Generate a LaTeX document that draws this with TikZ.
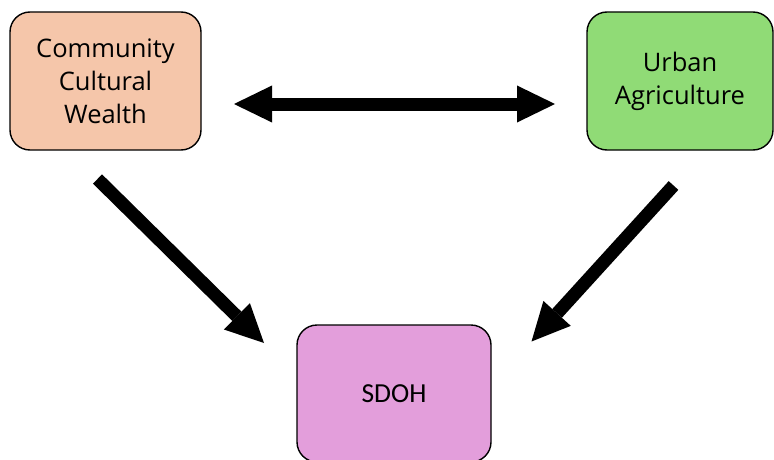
\documentclass[tikz,border=0pt]{standalone}
\usepackage{fontspec}
\setmainfont{Open Sans}
\newfontfamily\sdohfont{Carlito}
\usetikzlibrary{arrows.meta}
\definecolor{peach}{HTML}{F5C6AA}
\definecolor{leaf}{HTML}{90DB76}
\definecolor{orchid}{HTML}{E39EDB}
\tikzset{
  boxnode/.style={draw=black, line width=1.4pt, rounded corners=20pt, align=center,
    font=\fontsize{25.5}{33}\selectfont, inner sep=0pt},
  bigarrow/.style={line width=13pt, draw=black,
    -{Triangle[length=38pt,width=37pt,line width=0pt]}},
  bothway/.style={line width=13pt, draw=black,
    {Triangle[length=38pt,width=37pt,line width=0pt]}-{Triangle[length=38pt,width=37pt,line width=0pt]}}
}
\begin{document}
\begin{tikzpicture}[x=1pt,y=-1pt]
\useasboundingbox (0,0) rectangle (774,460);
\fill[white] (0,0) rectangle (774,460);
\node[boxnode, fill=peach, minimum width=191pt, minimum height=138pt] (ccw) at (105.5,81)
  {Community\\Cultural\\Wealth};
\node[boxnode, fill=leaf, minimum width=186pt, minimum height=138pt] (ua) at (680,81)
  {Urban\\Agriculture};
\node[boxnode, fill=orchid, minimum width=194pt, minimum height=137pt,
  font=\sdohfont\fontsize{27.5}{30}\selectfont] (sdoh) at (394,393.5) {SDOH};
\coordinate (dl) at (234,104);
\coordinate (dr) at (555,104);
\coordinate (s1) at (97.5,179);
\coordinate (t1) at (264,343);
\coordinate (s2) at (673.5,185.5);
\coordinate (t2) at (531.5,341.5);
\draw[bothway] (dl) -- (dr);
\draw[bigarrow] (s1) -- (t1);
\draw[bigarrow] (s2) -- (t2);
\end{tikzpicture}
\end{document}
